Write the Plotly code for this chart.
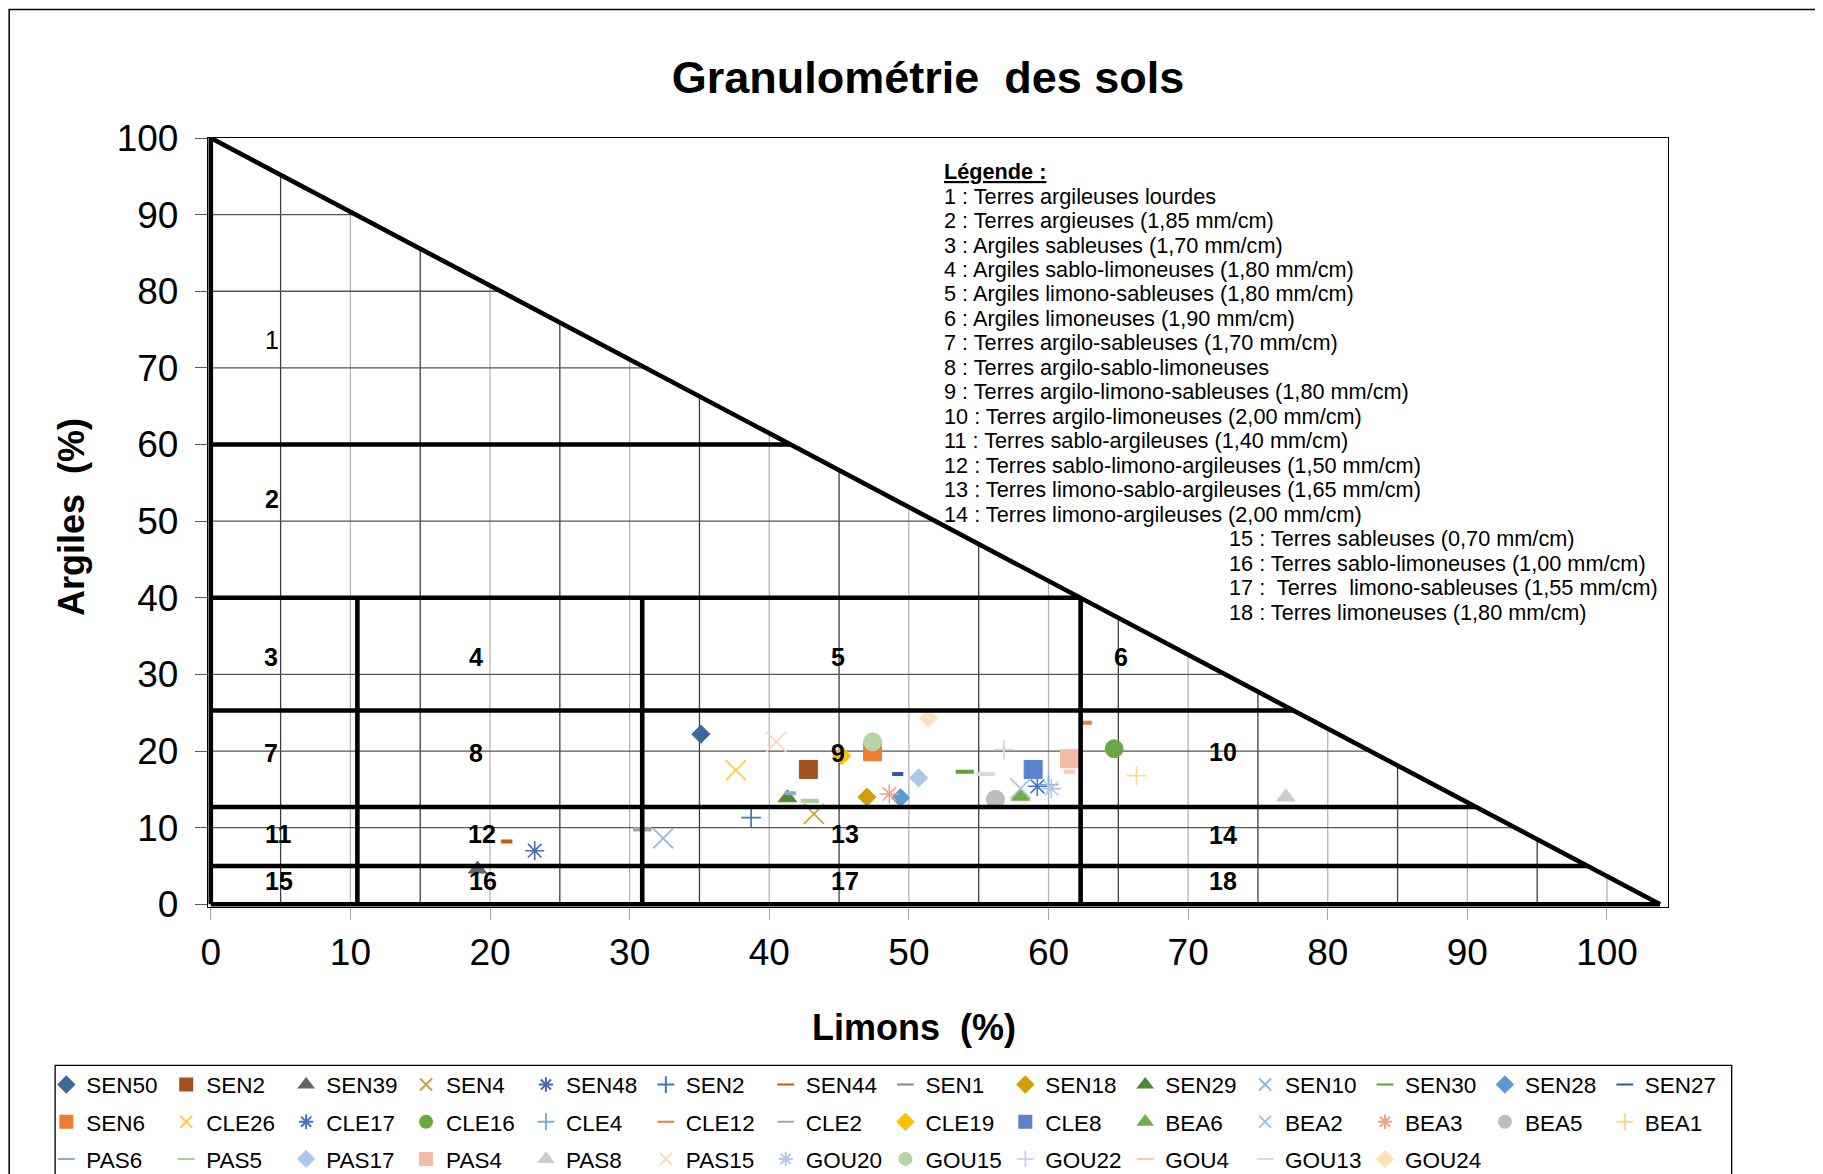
import plotly.graph_objects as go

# ---------------- data ----------------
names = ["SEN50", "SEN2", "SEN39", "SEN4", "SEN48", "SEN2", "SEN44", "SEN1", "SEN18", "SEN29",
         "SEN10", "SEN30", "SEN28", "SEN27",
         "SEN6", "CLE26", "CLE17", "CLE16", "CLE4", "CLE12", "CLE2", "CLE19", "CLE8", "BEA6",
         "BEA2", "BEA3", "BEA5", "BEA1",
         "PAS6", "PAS5", "PAS17", "PAS4", "PAS8", "PAS15", "GOU20", "GOU15", "GOU22", "GOU4",
         "GOU13", "GOU24"]
limons = [35.1, 42.8, 19.1, 43.2, 23.2, 38.7, 21.2, 30.9, 47.0, 41.3,
          32.4, 54.0, 49.4, 49.2,
          47.4, 37.6, 59.2, 64.7, 60.0, 62.7, 30.9, 45.2, 58.9, 58.0,
          58.0, 48.6, 56.2, 66.3,
          41.5, 42.9, 50.7, 61.5, 77.0, 40.5, 60.2, 47.4, 56.8, 61.5,
          55.5, 51.4]
argiles = [22.2, 17.6, 4.6, 11.8, 7.0, 11.3, 8.2, 9.8, 14.0, 13.9,
           8.6, 17.3, 13.9, 17.0,
           19.9, 17.5, 15.4, 20.3, 15.6, 23.7, 9.8, 19.4, 17.6, 14.1,
           15.1, 14.4, 13.7, 16.8,
           14.5, 13.5, 16.5, 19.0, 14.0, 21.2, 15.1, 21.2, 20.2, 17.3,
           17.0, 24.3]

# marker kind and colour of every series (same order as names)
kinds = ["diamond", "square", "triangle", "x", "star", "plus", "sdash", "ldash", "diamond", "triangle",
         "x", "ldash", "diamond", "sdash",
         "square", "x", "star", "circle", "plus", "sdash", "ldash", "diamond", "square", "triangle",
         "x", "star", "circle", "plus",
         "sdash", "ldash", "diamond", "square", "triangle", "x", "star", "circle", "plus", "sdash",
         "ldash", "diamond"]
colors = ["#386A9A", "#A0521F", "#666666", "#C8A23A", "#4A69B0", "#3A78B9", "#C55A11", "#8A8A8A",
          "#CFA00A", "#4E8A32", "#93B8E0", "#5FA03C", "#5B9BD5", "#2F58A6",
          "#ED7D31", "#FFCC44", "#4472C4", "#6AA844", "#7EAEDC", "#ED7D31", "#A5A5A5", "#FFC000",
          "#5B82CC", "#72AF4B", "#A4C4E8", "#F2A088", "#BDBDBD", "#FFD88A",
          "#8FA8DC", "#A9CF94", "#A9C9EA", "#F5BCA5", "#CCCCCC", "#FDD8B5", "#B4C7E7", "#B7D5A8",
          "#C9D7EF", "#F8CBAD", "#DBDBDB", "#FFE0B8"]

# texture triangle structure (limons %, argiles %)
hyp_end = 103.8                      # silt value where the hypotenuse meets 0 % clay
clay_bounds = [60, 40, 25.3, 12.7, 5, 0]
silt_bounds = [10.5, 30.9, 62.3]
silt_bound_top = 40
grid_x_light = [10, 20, 30, 40, 50, 60, 70, 80, 90, 100]
grid_x_dark = [5, 15, 25, 35, 45, 55, 65, 75, 85, 95]
grid_y = [10, 20, 30, 40, 50, 60, 70, 80, 90]
tick_vals = [0, 10, 20, 30, 40, 50, 60, 70, 80, 90, 100]

zone_ids = ["1", "2", "3", "4", "5", "6", "7", "8", "9", "10", "11", "12", "13", "14",
            "15", "16", "17", "18"]
zone_x = [4.4, 4.4, 4.3, 19.0, 44.9, 65.2, 4.3, 19.0, 44.9, 72.5, 4.85, 19.4, 45.4, 72.5,
          4.85, 19.5, 45.4, 72.5]
zone_y = [73.7, 52.9, 32.3, 32.3, 32.3, 32.3, 19.8, 19.8, 19.7, 19.9, 9.2, 9.2, 9.2, 9.1,
          3.0, 3.0, 3.1, 3.0]

legend_title = "Légende :"
legend_lines = [
    "1 : Terres argileuses lourdes",
    "2 : Terres argieuses (1,85 mm/cm)",
    "3 : Argiles sableuses (1,70 mm/cm)",
    "4 : Argiles sablo-limoneuses (1,80 mm/cm)",
    "5 : Argiles limono-sableuses (1,80 mm/cm)",
    "6 : Argiles limoneuses (1,90 mm/cm)",
    "7 : Terres argilo-sableuses (1,70 mm/cm)",
    "8 : Terres argilo-sablo-limoneuses",
    "9 : Terres argilo-limono-sableuses (1,80 mm/cm)",
    "10 : Terres argilo-limoneuses (2,00 mm/cm)",
    "11 : Terres sablo-argileuses (1,40 mm/cm)",
    "12 : Terres sablo-limono-argileuses (1,50 mm/cm)",
    "13 : Terres limono-sablo-argileuses (1,65 mm/cm)",
    "14 : Terres limono-argileuses (2,00 mm/cm)",
    "15 : Terres sableuses (0,70 mm/cm)",
    "16 : Terres sablo-limoneuses (1,00 mm/cm)",
    "17 :  Terres  limono-sableuses (1,55 mm/cm)",
    "18 : Terres limoneuses (1,80 mm/cm)",
]

# ---------------- geometry helpers (layout only) ----------------
OFF = 8  # default body margin of the html page
W, H = 1823 - OFF, 1174 - OFF
P_LEFT, P_RIGHT, P_TOP, P_BOTTOM = 207.9, 1668.3, 137.7, 907.4  # plot area in page px
L = P_LEFT - OFF
T = P_TOP - OFF
PW = P_RIGHT - P_LEFT
PH = P_BOTTOM - P_TOP
R = W - L - PW
B = H - T - PH


def pxp(x):
    return (x - OFF - L) / PW


def pyp(y):
    return (T + PH - (y - OFF)) / PH


FONT = "Liberation Sans, Arial, sans-serif"


def hyp_x(clay):
    return hyp_end * (1 - clay / 100.0)


def hyp_y(silt):
    return 100.0 * (1 - silt / hyp_end)


fig = go.Figure()


def seg_trace(xs, ys, color, width):
    return go.Scatter(x=xs, y=ys, mode="lines", line=dict(color=color, width=width),
                      showlegend=False, hoverinfo="skip")


# grid lines clipped by the triangle
gx, gy = [], []
for v in grid_x_light:
    gx += [v, v, None]
    gy += [0, max(hyp_y(v), 0), None]
fig.add_trace(seg_trace(gx, gy, "#B4B4B4", 1.3))
gx, gy = [], []
for v in grid_x_dark:
    gx += [v, v, None]
    gy += [0, hyp_y(v), None]
fig.add_trace(seg_trace(gx, gy, "#3F3F3F", 1.3))
gx, gy = [], []
for v in grid_y:
    gx += [0, hyp_x(v), None]
    gy += [v, v, None]
fig.add_trace(seg_trace(gx, gy, "#555555", 1.3))

# ---------------- data series ----------------
STYLE = {
    "diamond": dict(symbol="diamond", size=14, lw=1),
    "square": dict(symbol="square", size=18, lw=1),
    "triangle": dict(symbol="triangle-up", size=16, lw=1),
    "circle": dict(symbol="circle", size=18, lw=1),
    "x": dict(symbol="x-thin", size=20, lw=1.7),
    "plus": dict(symbol="cross-thin", size=14, lw=1.7),
    "star": dict(symbol="asterisk", size=16, lw=1.6),
    "sdash": dict(symbol="line-ew", size=8, lw=4),
    "ldash": dict(symbol="line-ew", size=13, lw=4),
}

legend_keys = []
for i in range(len(names)):
    row = i // 14
    col = i % 14
    half = 0 if col < 7 else 1
    idx = row * 2 + half
    legend_keys.append("legend" if idx == 0 else "legend%d" % (idx + 1))

for i, nm in enumerate(names):
    st = STYLE[kinds[i]]
    fig.add_trace(go.Scatter(
        x=[limons[i]], y=[argiles[i]], mode="markers", name=nm,
        legend=legend_keys[i],
        marker=dict(symbol=st["symbol"], size=st["size"], color=colors[i],
                    line=dict(color=colors[i], width=st["lw"])),
    ))

# ---------------- thick classification lines ----------------
tx, ty = [0, 0, None, 0, hyp_end, None], [0, 100, None, 100, 0, None]
for c in clay_bounds:
    tx += [0, hyp_x(c), None]
    ty += [c, c, None]
for s in silt_bounds:
    tx += [s, s, None]
    ty += [0, silt_bound_top, None]
fig.add_trace(seg_trace(tx, ty, "black", 4.6))

# ---------------- annotations ----------------
ann = []
for zid, zx, zy in zip(zone_ids, zone_x, zone_y):
    txt = zid if zid == "1" else "<b>%s</b>" % zid
    ann.append(dict(x=zx, y=zy, xref="x", yref="y", text=txt, showarrow=False,
                    xanchor="center", yanchor="middle",
                    font=dict(size=25, color="black", family=FONT)))

# text legend (top right)
base0 = 178.3
step = 24.5
ann.append(dict(x=pxp(942), y=pyp(base0 - 7), xref="paper", yref="paper", xanchor="left",
                yanchor="middle", showarrow=False, text="<b>%s</b>" % legend_title,
                font=dict(size=21.7, color="black", family=FONT, lineposition="under")))
for j, line in enumerate(legend_lines):
    xpage = 942 if j < 14 else 1227
    ann.append(dict(x=pxp(xpage), y=pyp(base0 + step * (j + 1) - 7), xref="paper", yref="paper",
                    xanchor="left", yanchor="middle", showarrow=False, text=line,
                    font=dict(size=21.7, color="black", family=FONT)))

# axis titles
ann.append(dict(x=pxp(914), y=pyp(1028), xref="paper", yref="paper", showarrow=False,
                xanchor="center", yanchor="middle",
                text="<b>Limons  (%)</b>", font=dict(size=36, color="black", family=FONT)))
ann.append(dict(x=pxp(72), y=pyp(517), xref="paper", yref="paper", showarrow=False,
                xanchor="center", yanchor="middle",
                textangle=-90, text="<b>Argiles  (%)</b>",
                font=dict(size=36, color="black", family=FONT)))

# ---------------- frames ----------------
shapes = [
    dict(type="rect", xref="paper", yref="paper", x0=pxp(9), x1=pxp(1900), y0=pyp(1300),
         y1=pyp(9), line=dict(color="black", width=1.5), layer="below"),
    dict(type="rect", xref="paper", yref="paper", x0=pxp(55), x1=pxp(1732), y0=pyp(1260),
         y1=pyp(1066), line=dict(color="black", width=1.3), layer="below"),
]

# ---------------- legends (3 rows split in halves) ----------------
row_centers = [1085.5, 1122.7, 1159.9]
col_pitch = 119.9
text_start0 = 87.2
legends = {}
for idx in range(6):
    row, half = idx // 2, idx % 2
    key = "legend" if idx == 0 else "legend%d" % (idx + 1)
    legends[key] = dict(
        orientation="h", x=pxp(text_start0 + half * 7 * col_pitch - 41), xanchor="left",
        y=pyp(row_centers[row]), yanchor="middle", entrywidth=col_pitch - 45,
        entrywidthmode="pixels", font=dict(size=22.5, color="black", family=FONT),
        bgcolor="rgba(0,0,0,0)", borderwidth=0, itemsizing="constant", traceorder="normal",
    )

axis_common = dict(showgrid=False, zeroline=False, showline=True, linecolor="black",
                   linewidth=1.3, mirror=True, ticks="outside", ticklen=12, tickwidth=1.3,
                   tickvals=tick_vals, tickfont=dict(size=37, color="black", family=FONT))

fig.update_layout(
    width=W, height=H,
    margin=dict(l=L, r=R, t=T, b=B, autoexpand=False),
    paper_bgcolor="white", plot_bgcolor="white",
    font=dict(family=FONT, color="black"),
    title=dict(text="<b>Granulométrie  des sols</b>", x=(928 - OFF) / W, xanchor="center",
               y=1 - (77 - OFF) / H, yanchor="middle", xref="container", yref="container",
               font=dict(size=45, color="black", family=FONT)),
    xaxis=dict(range=[-0.2, 104.37], tickcolor="#A6A6A6", **axis_common),
    yaxis=dict(range=[-0.35, 100], tickcolor="#595959", ticklabelstandoff=9, **axis_common),
    annotations=ann,
    shapes=shapes,
    **legends,
)

fig.write_html("out.html")
